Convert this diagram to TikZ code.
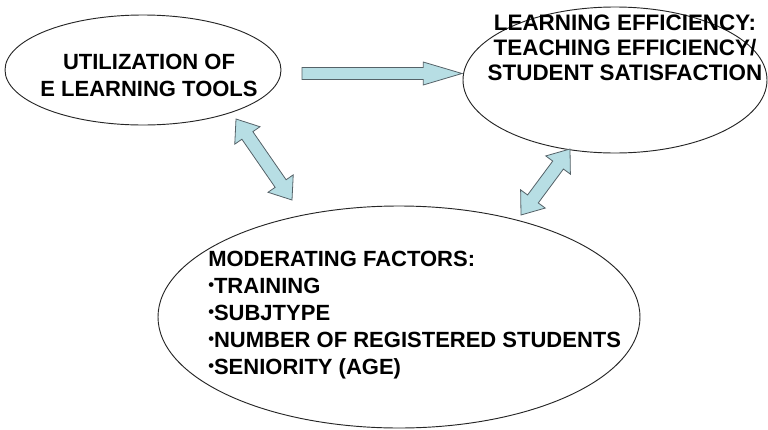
\documentclass[tikz,border=0pt]{standalone}
\usepackage{fontspec}
\setmainfont{Liberation Sans}
\usetikzlibrary{calc,shapes.geometric}

\definecolor{arrowfill}{RGB}{183,222,228}
\definecolor{arrowline}{RGB}{85,98,104}

% small list bullet
\newcommand\itembullet{\raisebox{0.25ex}{\scalebox{0.75}{\textbullet}}}

% Block arrow from #1 (tail) to #2 (tip); #3 shaft half width,
% #4 head half width, #5 head length.
\newcommand\fatarrow[5]{%
  \filldraw[blockarrow]
    ($(#1)!#3!90:(#2)$) --
    ($(#2)!#5!(#1)!#3!90:(#2)$) --
    ($(#2)!#5!(#1)!#4!90:(#2)$) --
    (#2) --
    ($(#2)!#5!(#1)!#4!-90:(#2)$) --
    ($(#2)!#5!(#1)!#3!-90:(#2)$) --
    ($(#1)!#3!-90:(#2)$) -- cycle;}

% Two-headed block arrow between #1 and #2, same parameters.
\newcommand\fatdarrow[5]{%
  \filldraw[blockarrow]
    (#1) --
    ($(#1)!#5!(#2)!#4!90:(#2)$) --
    ($(#1)!#5!(#2)!#3!90:(#2)$) --
    ($(#2)!#5!(#1)!#3!90:(#2)$) --
    ($(#2)!#5!(#1)!#4!90:(#2)$) --
    (#2) --
    ($(#2)!#5!(#1)!#4!-90:(#2)$) --
    ($(#2)!#5!(#1)!#3!-90:(#2)$) --
    ($(#1)!#5!(#2)!#3!-90:(#2)$) --
    ($(#1)!#5!(#2)!#4!-90:(#2)$) -- cycle;}

\begin{document}
\begin{tikzpicture}[x=0.75pt,y=-0.75pt,
  oval/.style={ellipse,draw=black!85,line width=0.7pt,inner sep=0pt},
  blockarrow/.style={fill=arrowfill,draw=arrowline,line width=0.6pt,line join=miter},
  label/.style={font=\bfseries\fontsize{16.5}{20.25}\selectfont,inner sep=0pt}]
\useasboundingbox (0,0) rectangle (768,429);

% ovals
\node[oval,minimum width=276*0.75pt,minimum height=110*0.75pt] (tools) at (143,70) {};
\node[oval,minimum width=304*0.75pt,minimum height=146*0.75pt] (eff) at (615,80) {};
\node[oval,minimum width=482*0.75pt,minimum height=222*0.75pt] (mod) at (399,317) {};

% texts
\node[label,align=center] (toolstxt) at (149,75) {UTILIZATION OF\\E LEARNING TOOLS};
\node[label,align=center,font=\bfseries\fontsize{16.8}{18.75}\selectfont] (efftxt) at (625,48)
  {LEARNING EFFICIENCY:\\TEACHING EFFICIENCY/\\STUDENT SATISFACTION};
\node[label,align=left,anchor=west] (modtxt) at (208,315)
  {MODERATING FACTORS:\\\itembullet TRAINING\\\itembullet SUBJTYPE\\
   \itembullet NUMBER OF REGISTERED STUDENTS\\\itembullet SENIORITY (AGE)};

% arrow end points
\coordinate (a-tail) at (302,73.5);
\coordinate (a-tip) at (462,73.5);
\coordinate (b-top) at (236,119);
\coordinate (b-bot) at (292,200);
\coordinate (c-top) at (570,149);
\coordinate (c-bot) at (521,215);

\fatarrow{a-tail}{a-tip}{4.5pt}{8.6pt}{29pt}
\fatdarrow{b-top}{b-bot}{5pt}{11.5pt}{15pt}
\fatdarrow{c-top}{c-bot}{5pt}{11.5pt}{15pt}
\end{tikzpicture}
\end{document}
